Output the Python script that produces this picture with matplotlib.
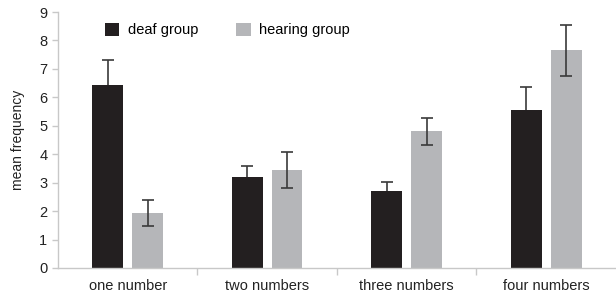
import numpy as np
import matplotlib
matplotlib.use("Agg")
import matplotlib.pyplot as plt

plt.rcParams['font.family'] = ['Liberation Sans', 'DejaVu Sans']

categories = ['one number', 'two numbers', 'three numbers', 'four numbers']
deaf = [6.45, 3.2, 2.7, 5.55]
deaf_err = [0.88, 0.38, 0.32, 0.83]
hearing = [1.93, 3.45, 4.8, 7.65]
hearing_err = [0.45, 0.62, 0.49, 0.91]

x = np.arange(len(categories))
w = 0.22
off = 0.143
axis_col = '#c8c8c8'

fig = plt.figure(figsize=(6.16, 2.99), dpi=100)
ax = fig.add_axes([0.094, 0.1037, 0.906, 0.856])

ax.bar(x - off, deaf, w, color='#231f20', label='deaf group', zorder=2)
ax.bar(x + off, hearing, w, color='#b5b6b9', label='hearing group', zorder=2)
# deaf error bars sit behind the black bars, so only the upper half shows
ax.errorbar(x - off, deaf, yerr=deaf_err, fmt='none', ecolor='#3a3a3a',
            elinewidth=1.2, capsize=4, capthick=1.2, zorder=1)
ax.errorbar(x + off, hearing, yerr=hearing_err, fmt='none', ecolor='#3a3a3a',
            elinewidth=1.2, capsize=4, capthick=1.2, zorder=3)

ax.set_xlim(-0.5, 3.5)
ax.set_ylim(0, 9)
ax.set_yticks(range(10))
ax.set_xticks(x)
ax.set_xticklabels(categories)
ax.set_xticks([0.5, 1.5, 2.5], minor=True)
ax.tick_params(axis='x', which='major', length=0, pad=8, labelsize=10.5, colors='#222222')
ax.tick_params(axis='x', which='minor', length=5, color=axis_col, width=1)
ax.tick_params(axis='y', length=4, color=axis_col, width=1, labelsize=10.5, labelcolor='#222222')

for s in ['top', 'right']:
    ax.spines[s].set_visible(False)
for s in ['left', 'bottom']:
    ax.spines[s].set_color(axis_col)
    ax.spines[s].set_linewidth(1)

ax.set_ylabel('mean frequency', fontsize=10, color='#222222', labelpad=10)

ax.legend(loc='upper left', bbox_to_anchor=(0.06, 1.01), ncol=2, frameon=False,
          fontsize=10.5, handlelength=1.0, handleheight=1.0, columnspacing=2.6,
          handletextpad=0.6)

fig.savefig('out.png', dpi=100)
